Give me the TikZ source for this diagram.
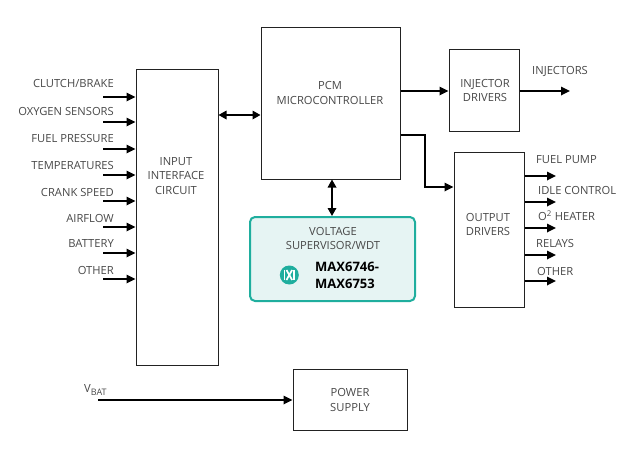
\documentclass[tikz,border=0pt]{standalone}
\usepackage{fontspec}
\setmainfont{Open Sans}
\usepackage{xcolor}
\usetikzlibrary{calc,arrows.meta}
\definecolor{ink}{HTML}{484848}
\definecolor{edge}{HTML}{222222}
\definecolor{teal}{HTML}{1FAE9E}
\definecolor{tealfill}{HTML}{E6F4F3}
\tikzset{
  box/.style={draw=edge, line width=1pt, fill=white, inner sep=0pt},
  chip/.style={draw=teal, line width=2pt, fill=tealfill, rounded corners=5pt, inner sep=0pt},
  lab/.style={text=ink, font=\fontsize{11.2}{14.5}\selectfont, inner sep=0pt, align=center},
  part/.style={text=black, font=\fontsize{13}{16.5}\bfseries\selectfont, inner sep=0pt, align=left},
  logobar/.style={draw=white, line width=1.7pt},
  sig/.style={draw=black, line width=1.7pt, -{Triangle[length=9pt,width=8.5pt]}},
  bus/.style={draw=black, line width=1.7pt, {Triangle[length=8pt,width=8.5pt]}-{Triangle[length=8pt,width=8.5pt]}},
}
\begin{document}
\begin{tikzpicture}[x=1pt,y=-1pt]
  \useasboundingbox (0,0) rectangle (635,455);
  % boxes
  \node[box,minimum width=82pt,minimum height=296pt] (input) at (177,217) {};
  \node[box,minimum width=139pt,minimum height=152pt] (pcm) at (330.5,103) {};
  \node[box,minimum width=70pt,minimum height=82pt] (injector) at (484,90) {};
  \node[box,minimum width=70pt,minimum height=155pt] (output) at (489,229.5) {};
  \node[box,minimum width=114pt,minimum height=61pt] (power) at (350,399.5) {};
  \node[chip,minimum width=165pt,minimum height=84pt] (wdt) at (332.5,259) {};
  % box texts
  \node[lab] (inputtext) at (176,176) {INPUT\\INTERFACE\\CIRCUIT};
  \node[lab] (pcmtext) at (330,93) {PCM\\MICROCONTROLLER};
  \node[lab] (injectortext) at (485,90.5) {INJECTOR\\DRIVERS};
  \node[lab] (outputtext) at (488,224.5) {OUTPUT\\DRIVERS};
  \node[lab] (powertext) at (350,400) {POWER\\SUPPLY};
  \node[lab] (wdttext) at (333,238.5) {VOLTAGE\\SUPERVISOR/WDT};
  \node[part,anchor=west] (parttext) at (315,275.5) {MAX6746-\\MAX6753};
  % logo
  \fill[teal] (289.3,275) circle (9.5);
  \draw[logobar] (284.5,270) -- (284.5,280);
  \draw[logobar] (294.1,270) -- (294.1,280);
  \draw[logobar] (286.5,270) -- (292.1,280);
  \draw[logobar] (292.1,270) -- (286.5,280);
  % inputs
  \node[lab,anchor=east] (clutch) at (114,83) {CLUTCH/BRAKE};
  \node[lab,anchor=east] (oxygen) at (114,111) {OXYGEN SENSORS};
  \node[lab,anchor=east] (fuel) at (114,138) {FUEL PRESSURE};
  \node[lab,anchor=east] (temp) at (114,165) {TEMPERATURES};
  \node[lab,anchor=east] (crank) at (114,192) {CRANK SPEED};
  \node[lab,anchor=east] (airflow) at (114,218) {AIRFLOW};
  \node[lab,anchor=east] (battery) at (114,243) {BATTERY};
  \node[lab,anchor=east] (otherin) at (114,270) {OTHER};
  \coordinate (a1) at (103,97);
  \coordinate (a2) at (103,122);
  \coordinate (a3) at (103,149);
  \coordinate (a4) at (103,175);
  \coordinate (a5) at (103,201);
  \coordinate (a6) at (103,227);
  \coordinate (a7) at (103,253);
  \coordinate (a8) at (103,279);
  \draw[sig] (a1) -- (a1-|input.west);
  \draw[sig] (a2) -- (a2-|input.west);
  \draw[sig] (a3) -- (a3-|input.west);
  \draw[sig] (a4) -- (a4-|input.west);
  \draw[sig] (a5) -- (a5-|input.west);
  \draw[sig] (a6) -- (a6-|input.west);
  \draw[sig] (a7) -- (a7-|input.west);
  \draw[sig] (a8) -- (a8-|input.west);
  % outputs
  \node[lab,anchor=west] (pump) at (536,160) {FUEL PUMP};
  \node[lab,anchor=west] (idle) at (538,190) {IDLE CONTROL};
  \node[lab,anchor=west] (heater) at (538,216) {O\textsuperscript{2} HEATER};
  \node[lab,anchor=west] (relays) at (536,243) {RELAYS};
  \node[lab,anchor=west] (otherout) at (537,271) {OTHER};
  \coordinate (b1) at (556,176);
  \coordinate (b2) at (556,202);
  \coordinate (b3) at (556,228);
  \coordinate (b4) at (556,255);
  \coordinate (b5) at (556,281);
  \draw[sig] (b1-|output.east) -- (b1);
  \draw[sig] (b2-|output.east) -- (b2);
  \draw[sig] (b3-|output.east) -- (b3);
  \draw[sig] (b4-|output.east) -- (b4);
  \draw[sig] (b5-|output.east) -- (b5);
  % middle connections
  \coordinate (c1) at (240,115);
  \draw[bus] (c1-|input.east) -- (c1-|pcm.west);
  \coordinate (c2) at (332,198);
  \draw[bus] (c2|-pcm.south) -- (c2|-wdt.north);
  \coordinate (c3) at (425,91);
  \draw[sig] (c3-|pcm.east) -- (c3-|injector.west);
  \coordinate (c4) at (425,135);
  \coordinate (c5) at (425,187);
  \draw[sig] (c4-|pcm.east) -- (c4) -- (c5) -- (c5-|output.west);
  \coordinate (injout) at (570,91);
  \draw[sig] (injout-|injector.east) -- (injout);
  \node[lab,anchor=west] (injectors) at (532,71) {INJECTORS};
  % battery
  \node[lab,anchor=west] (vbat) at (84,390) {V\raisebox{-3pt}{\fontsize{9}{9}\selectfont BAT}};
  \coordinate (vin) at (98,400);
  \draw[sig] (vin) -- (vin-|power.west);
\end{tikzpicture}
\end{document}
